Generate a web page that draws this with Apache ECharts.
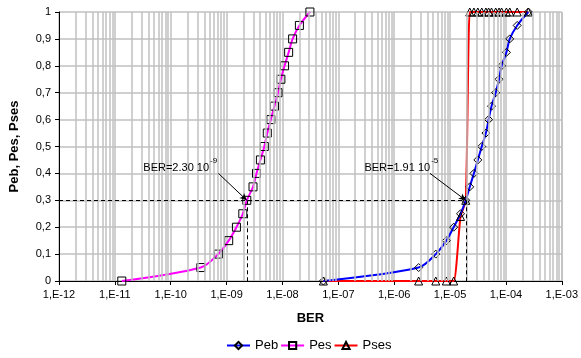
<!DOCTYPE html>
<html>
<head>
<meta charset="utf-8">
<script src="https://cdn.jsdelivr.net/npm/echarts@6/dist/echarts.min.js"></script>
<style>
html, body { margin: 0; padding: 0; background: #fff; }
#chart { width: 581px; height: 358px; }
</style>
</head>
<body>
<div id="chart"></div>
<script>
// probability levels (y) shared by Peb and Pes
var pLevels = [0, 0.05, 0.1, 0.15, 0.2, 0.25, 0.3, 0.35, 0.4, 0.45, 0.5,
	0.55, 0.6, 0.65, 0.7, 0.75, 0.8, 0.85, 0.9, 0.95, 1];
var pesBer = [1.33e-11, 3.46e-10, 7.1e-10, 1.09e-9, 1.5e-9, 1.95e-9, 2.3e-9, 2.97e-9, 3.43e-9, 4.03e-9, 4.73e-9,
	5.35e-9, 6.19e-9, 7.19e-9, 8.32e-9, 9.37e-9, 1.09e-8, 1.29e-8, 1.52e-8, 2.01e-8, 3.1e-8];
var pebBer = [5.4e-8, 2.74e-6, 5.55e-6, 8.57e-6, 1.16e-5, 1.54e-5, 1.91e-5, 2.25e-5, 2.67e-5, 3.14e-5, 3.69e-5,
	4.38e-5, 4.9e-5, 5.52e-5, 6.56e-5, 7.53e-5, 8.36e-5, 1.02e-4, 1.17e-4, 1.59e-4, 2.52e-4];
var psesBer = [5.4e-8, 2.74e-6, 5.55e-6, 8.57e-6, 1.16e-5, 1.54e-5, 1.91e-5, 2.25e-5, 2.67e-5, 3.14e-5, 3.69e-5,
	4.38e-5, 4.9e-5, 5.52e-5, 6.56e-5, 7.53e-5, 8.36e-5, 1.02e-4, 1.17e-4, 1.59e-4, 2.52e-4];
var psesVal = [0, 0, 0, 0, 0, 0.24, 0.3, 1, 1, 1, 1,
	1, 1, 1, 1, 1, 1, 1, 1, 1, 1];

var xTickLabels = ['1,E-12', '1,E-11', '1,E-10', '1,E-09', '1,E-08', '1,E-07', '1,E-06', '1,E-05', '1,E-04', '1,E-03'];
var yTickLabels = ['0', '0,1', '0,2', '0,3', '0,4', '0,5', '0,6', '0,7', '0,8', '0,9', '1'];

// BER read-off at P = 0.3
var refLevel = 0.3;
var refBer = [2.30e-9, 1.91e-5];
var refMant = ['2.30', '1.91'];
var refExp = ['-9', '-5'];
var arrowFrom = [[7.14e-10, 0.40], [4.38e-6, 0.40]];
var labelAt = [[4.85e-10, 0.42], [4.4e-6, 0.42]];

var font = 'Liberation Sans, Arial, sans-serif';
var gridColor = '#c0c0c0';
var gridWidth = 1.5;

function pairs(xs, ys) {
	var out = [];
	for (var i = 0; i < xs.length; i++) out.push([xs[i], ys[i]]);
	return out;
}

// minor vertical gridlines 2..9 in every decade
var minorLines = [];
for (var e = -12; e < -3; e++) {
	for (var k = 2; k <= 9; k++) {
		var v = k * Math.pow(10, e);
		minorLines.push([{ coord: [v, 0] }, { coord: [v, 1] }]);
	}
}

var dashStyle = { color: '#000', width: 1, type: [4, 3] };
var arrowStyle = { color: '#000', width: 1, type: 'solid' };
var hollow = { color: 'rgba(255,255,255,0)', borderColor: '#000', borderWidth: 1 };

var option = {
	animation: false,
	grid: { left: 50, right: 16, top: 12, bottom: 77 },
	legend: {
		top: 334,
		left: 221,
		data: ['Peb', 'Pes', 'Pses'],
		itemWidth: 23,
		itemHeight: 9,
		itemGap: 2,
		textStyle: { fontFamily: font, fontSize: 13, color: '#000' }
	},
	xAxis: {
		type: 'log',
		logBase: 10,
		min: 1e-12,
		max: 1e-3,
		interval: 1,
		name: 'BER',
		nameLocation: 'middle',
		nameGap: 31,
		nameTextStyle: { fontFamily: font, fontWeight: 'bold', fontSize: 13, color: '#000' },
		axisLine: { lineStyle: { color: '#000', width: 1 } },
		axisTick: { show: true, length: 4, lineStyle: { color: '#000' } },
		axisLabel: {
			margin: 8,
			fontFamily: font,
			fontSize: 11,
			color: '#000',
			formatter: function(v) {
				return xTickLabels[Math.round(Math.log(v) / Math.LN10) + 12];
			}
		},
		splitLine: { show: true, lineStyle: { color: gridColor, width: gridWidth } }
	},
	yAxis: {
		type: 'value',
		min: 0,
		max: 1,
		interval: 0.1,
		name: 'Peb, Pes, Pses',
		nameLocation: 'middle',
		nameGap: 38,
		nameTextStyle: { fontFamily: font, fontWeight: 'bold', fontSize: 13, color: '#000' },
		axisLine: { show: true, lineStyle: { color: '#000', width: 1 } },
		axisTick: { show: true, length: 4, lineStyle: { color: '#000' } },
		axisLabel: {
			margin: 8,
			fontFamily: font,
			fontSize: 11,
			color: '#000',
			formatter: function(v) {
				return yTickLabels[Math.round(v * 10)];
			}
		},
		splitLine: { show: true, lineStyle: { color: gridColor, width: gridWidth } }
	},
	series: [{
		name: 'minor',
		type: 'line',
		data: [],
		silent: true,
		z: 1,
		markLine: {
			silent: true,
			symbol: ['none', 'none'],
			label: { show: false },
			lineStyle: { color: gridColor, width: gridWidth, type: 'solid' },
			data: minorLines
		}
	}, {
		name: 'ref',
		type: 'line',
		data: [],
		silent: true,
		markLine: {
			silent: true,
			symbol: ['none', 'none'],
			label: { show: false },
			lineStyle: dashStyle,
			data: [
				[{ coord: [1e-12, refLevel] }, { coord: [refBer[1], refLevel] }],
				[{ coord: [refBer[0], refLevel] }, { coord: [refBer[0], 0] }],
				[{ coord: [refBer[1], refLevel] }, { coord: [refBer[1], 0] }],
				[{ coord: arrowFrom[0], lineStyle: arrowStyle },
					{ coord: [refBer[0], refLevel], symbol: 'arrow', symbolSize: [5, 7] }],
				[{ coord: arrowFrom[1], lineStyle: arrowStyle },
					{ coord: [refBer[1], refLevel], symbol: 'arrow', symbolSize: [5, 7] }]
			]
		}
	}, {
		name: 'Pses',
		type: 'line',
		data: pairs(psesBer, psesVal),
		smooth: 0.2,
		symbol: 'triangle',
		symbolSize: 8,
		lineStyle: { color: '#ff0000', width: 2 },
		itemStyle: hollow
	}, {
		name: 'Pes',
		type: 'line',
		data: pairs(pesBer, pLevels),
		smooth: 0.3,
		symbol: 'rect',
		symbolSize: 8,
		lineStyle: { color: '#ff00ff', width: 2 },
		itemStyle: hollow
	}, {
		name: 'Peb',
		type: 'line',
		data: pairs(pebBer, pLevels),
		smooth: 0.3,
		symbol: 'diamond',
		symbolSize: 8,
		lineStyle: { color: '#0000ff', width: 2 },
		itemStyle: hollow
	}]
};

var chart = echarts.init(document.getElementById('chart'));
chart.setOption(option);

// read-off labels "BER=x 10^e"
var graphics = [];
for (var i = 0; i < labelAt.length; i++) {
	var p = chart.convertToPixel({ gridIndex: 0 }, labelAt[i]);
	graphics.push({
		type: 'text',
		x: p[0],
		y: p[1],
		z: 10,
		style: {
			text: 'BER=' + refMant[i] + ' 10',
			font: '11px ' + font,
			fill: '#000',
			align: 'right',
			verticalAlign: 'middle'
		}
	});
	graphics.push({
		type: 'text',
		x: p[0] + 1,
		y: p[1] - 7,
		z: 10,
		style: {
			text: refExp[i],
			font: '8px ' + font,
			fill: '#000',
			align: 'left',
			verticalAlign: 'middle'
		}
	});
}
chart.setOption({ graphic: graphics });

window.addEventListener('resize', function() {
	chart.resize();
});
</script>
</body>
</html>
